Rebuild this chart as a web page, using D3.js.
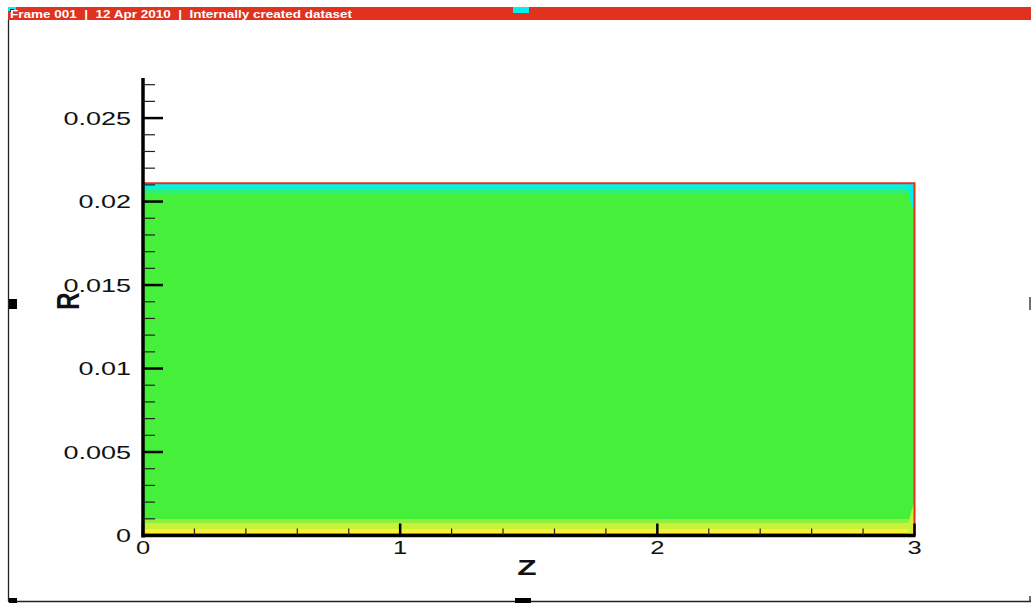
<!DOCTYPE html>
<html>
<head>
<meta charset="utf-8">
<script src="https://cdn.jsdelivr.net/npm/d3@7"></script>
<style>
html,body{margin:0;padding:0;background:#fff;}
svg{display:block;}
</style>
</head>
<body>
<svg id="chart" width="1031" height="603"></svg>
<script>
// ---- data ----
const headerText = "Frame 001  |  12 Apr 2010  |  Internally created dataset";
const zDomain = [0, 3];
const rDomain = [0, 0.0274];
const zTicks = [0, 1, 2, 3];
const zTickLabels = ["0", "1", "2", "3"];
const zMinorTicks = [0.2,0.4,0.6,0.8,1.2,1.4,1.6,1.8,2.2,2.4,2.6,2.8];
const rTicks = [0, 0.005, 0.01, 0.015, 0.02, 0.025];
const rTickLabels = ["0", "0.005", "0.01", "0.015", "0.02", "0.025"];
const rMinorTicks = [0.001,0.002,0.003,0.004,0.006,0.007,0.008,0.009,0.011,0.012,0.013,0.014,0.016,0.017,0.018,0.019,0.021,0.022,0.023,0.024,0.026,0.027];
const domainZ = [0, 3];
const domainR = [0, 0.0211];
// contour bands (R ranges) and their colours
const bandLow  = [0,       0.00012, 0.00036, 0.00072, 0.00096, 0.0205, 0.02068, 0.02086];
const bandHigh = [0.00012, 0.00036, 0.00072, 0.00096, 0.0205,  0.02068, 0.02086, 0.0211];
const bandColor = ["#f2a52c", "#fbef36", "#c8f23a", "#8cf03c", "#46f03a", "#2cf07a", "#10f0c0", "#00f4ee"];
// corner features near the outlet (Z, R points)
const cornerTop = [[2.975, 0.0211], [2.98, 0.0203], [2.99, 0.0197], [3, 0.0193], [3, 0.0211]];
const cornerBottomA = [[2.975, 0], [2.978, 0.0008], [2.985, 0.0013], [2.995, 0.0018], [3, 0.0021], [3, 0]];
const cornerBottomB = [[2.985, 0], [2.99, 0.0006], [3, 0.0011], [3, 0]];

// ---- drawing ----
const svg = d3.select("#chart");
const x = d3.scaleLinear().domain(zDomain).range([143, 914.5]);
const y = d3.scaleLinear().domain(rDomain).range([535.5, 78]);
const font = "Liberation Sans, Arial, sans-serif";
const stretch = 1.42;

// frame
svg.append("line").attr("x1", 8.5).attr("x2", 8.5).attr("y1", 20).attr("y2", 601).attr("stroke", "#222").attr("stroke-width", 1.3);
svg.append("line").attr("x1", 8).attr("x2", 1031).attr("y1", 601.5).attr("y2", 601.5).attr("stroke", "#222").attr("stroke-width", 1.3);
svg.append("line").attr("x1", 1030).attr("x2", 1030).attr("y1", 297).attr("y2", 310).attr("stroke", "#222").attr("stroke-width", 1.3);
svg.append("line").attr("x1", 1030).attr("x2", 1030).attr("y1", 596).attr("y2", 602).attr("stroke", "#222").attr("stroke-width", 1.3);
// handles
svg.append("rect").attr("x", 9).attr("y", 299).attr("width", 8).attr("height", 10).attr("fill", "#000");
svg.append("rect").attr("x", 515).attr("y", 598).attr("width", 16).attr("height", 5).attr("fill", "#000");
svg.append("rect").attr("x", 9).attr("y", 598).attr("width", 8).attr("height", 5).attr("fill", "#000");

// header
svg.append("rect").attr("x", 8).attr("y", 7).attr("width", 1023).attr("height", 13).attr("fill", "#e0321e");
svg.append("rect").attr("x", 8).attr("y", 7).attr("width", 8).attr("height", 4).attr("fill", "#00f0f0");
svg.append("rect").attr("x", 10).attr("y", 9).attr("width", 4).attr("height", 3).attr("fill", "#111");
svg.append("rect").attr("x", 513).attr("y", 7).attr("width", 16).attr("height", 6).attr("fill", "#00f0f0");
svg.append("text").attr("x", 10).attr("y", 17.5).text(headerText)
  .attr("fill", "#fff").attr("font-family", font)
  .attr("font-weight", "bold").attr("font-size", 10).attr("xml:space", "preserve").style("white-space", "pre")
  .attr("textLength", 342).attr("lengthAdjust", "spacingAndGlyphs");

// contour bands
const g = svg.append("g");
g.selectAll("rect.band").data(bandLow.map((d, i) => ({lo: d, hi: bandHigh[i], c: bandColor[i]})))
  .enter().append("rect").attr("class", "band")
  .attr("x", x(domainZ[0])).attr("width", x(domainZ[1]) - x(domainZ[0]))
  .attr("y", d => y(d.hi)).attr("height", d => y(d.lo) - y(d.hi))
  .attr("fill", d => d.c).attr("shape-rendering", "crispEdges");
const line = d3.line().x(d => x(d[0])).y(d => y(d[1]));
g.append("path").attr("d", line(cornerTop) + "Z").attr("fill", "#00eef0");
g.append("path").attr("d", line(cornerBottomA) + "Z").attr("fill", "#c8f23a");
g.append("path").attr("d", line(cornerBottomB) + "Z").attr("fill", "#fbdf36");

// red domain outline (top and right)
svg.append("path")
  .attr("d", line([[domainZ[0], domainR[1]], [domainZ[1], domainR[1]], [domainZ[1], domainR[0]]]))
  .attr("fill", "none").attr("stroke", "#e0321e").attr("stroke-width", 2);

// axes
const ax = svg.append("g");
ax.append("line").attr("x1", x(0)).attr("x2", x(0)).attr("y1", y(rDomain[1])).attr("y2", y(0) + 2)
  .attr("stroke", "#000").attr("stroke-width", 3.5);
ax.append("line").attr("x1", x(0) - 1.5).attr("x2", x(3) + 1).attr("y1", y(0)).attr("y2", y(0))
  .attr("stroke", "#000").attr("stroke-width", 3.5);
ax.selectAll("line.ry").data(rTicks).enter().append("line")
  .attr("x1", x(0)).attr("x2", x(0) + 20).attr("y1", d => y(d)).attr("y2", d => y(d))
  .attr("stroke", "#000").attr("stroke-width", 2.5);
ax.selectAll("line.rym").data(rMinorTicks).enter().append("line")
  .attr("x1", x(0)).attr("x2", x(0) + 12).attr("y1", d => y(d)).attr("y2", d => y(d))
  .attr("stroke", "#222").attr("stroke-width", 1.2);
ax.selectAll("text.rl").data(rTicks).enter().append("text")
  .attr("transform", d => `translate(131,${y(d) + 6.8}) scale(${stretch},1)`).attr("text-anchor", "end")
  .attr("font-family", font).attr("font-size", 19).attr("fill", "#111")
  .text((d, i) => rTickLabels[i]);
ax.selectAll("line.zx").data(zTicks).enter().append("line")
  .attr("x1", d => x(d)).attr("x2", d => x(d)).attr("y1", y(0)).attr("y2", y(0) - 12)
  .attr("stroke", "#000").attr("stroke-width", 2.5);
ax.selectAll("line.zxm").data(zMinorTicks).enter().append("line")
  .attr("x1", d => x(d)).attr("x2", d => x(d)).attr("y1", y(0)).attr("y2", y(0) - 7)
  .attr("stroke", "#222").attr("stroke-width", 1.2);
ax.selectAll("text.zl").data(zTicks).enter().append("text")
  .attr("transform", d => `translate(${x(d)},553.5) scale(${stretch},1)`).attr("text-anchor", "middle")
  .attr("font-family", font).attr("font-size", 18).attr("fill", "#111")
  .text((d, i) => zTickLabels[i]);
// axis titles
svg.append("text").attr("transform", `translate(527,575) scale(1.44,1)`).attr("text-anchor", "middle")
  .attr("font-family", font).attr("font-weight", "bold").attr("font-size", 22).attr("fill", "#111").text("Z");
svg.append("text").attr("transform", "translate(79,301) scale(1.3,1) rotate(-90)").attr("text-anchor", "middle")
  .attr("font-family", font).attr("font-weight", "bold").attr("font-size", 24).attr("fill", "#111").text("R");
</script>
</body>
</html>
